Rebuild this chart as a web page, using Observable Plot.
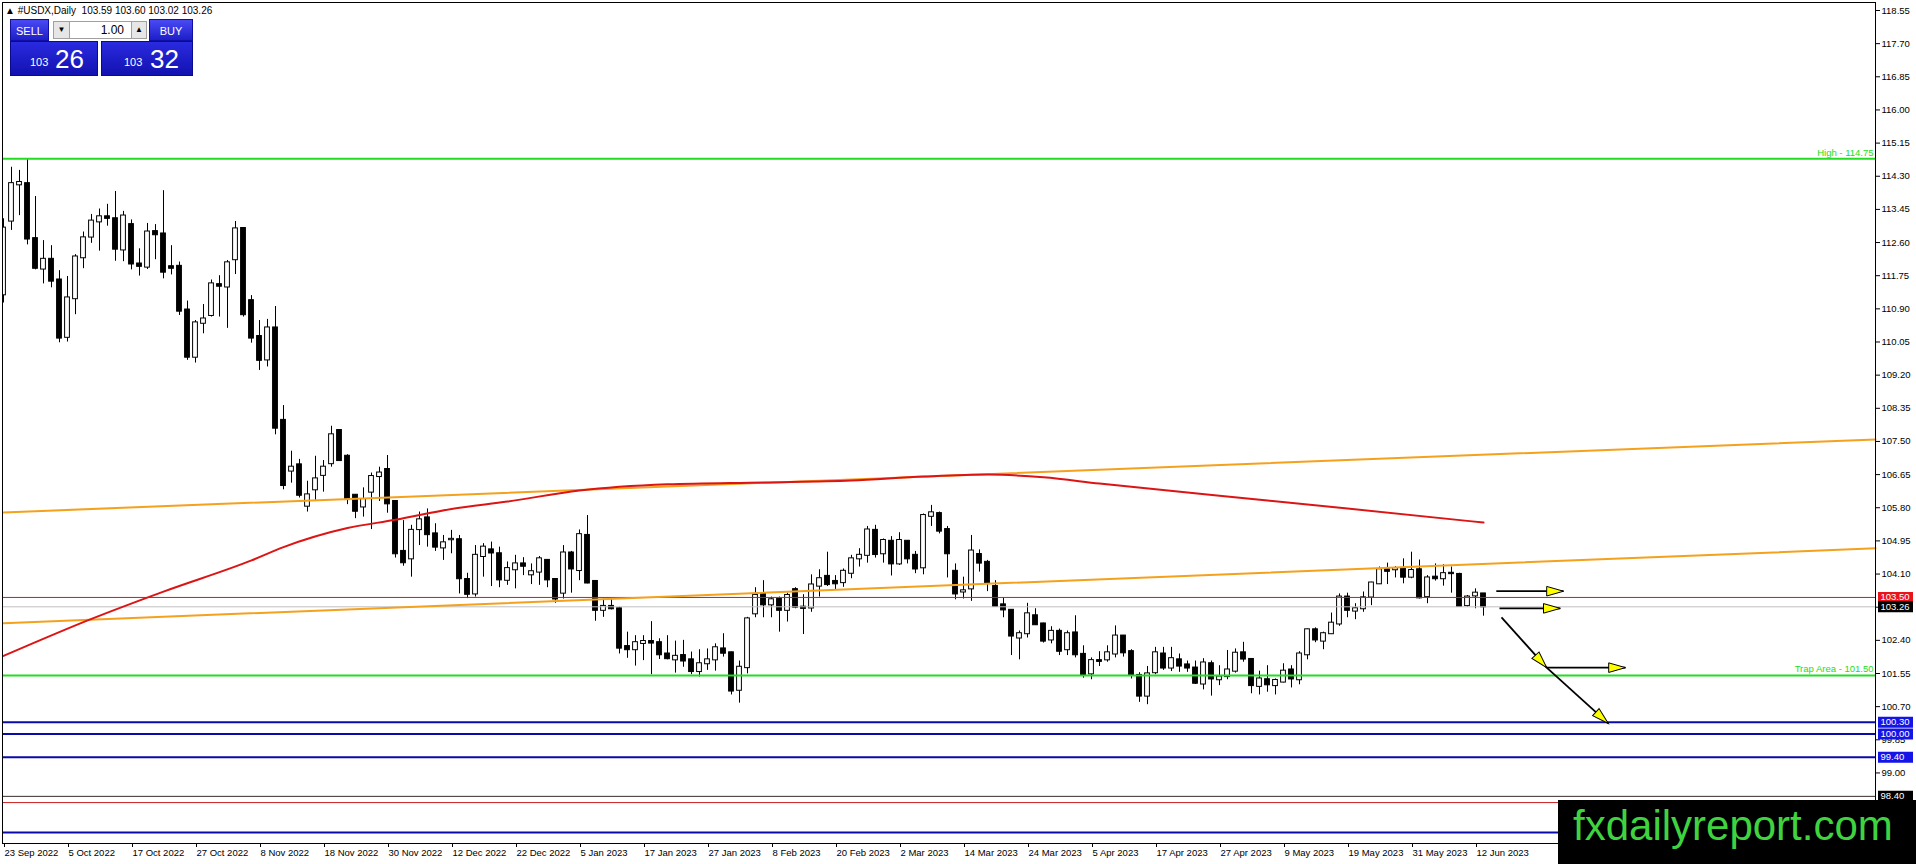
<!DOCTYPE html>
<html><head><meta charset="utf-8">
<script src="https://cdn.jsdelivr.net/npm/d3@7"></script>
<script src="https://cdn.jsdelivr.net/npm/@observablehq/plot@0.6"></script>
<style>
html,body{margin:0;padding:0;background:#fff;overflow:hidden}
#wrap{position:relative;width:1916px;height:864px;font-family:"Liberation Sans",Arial,sans-serif}
#chart{position:absolute;left:0;top:0}
.ov{position:absolute;box-sizing:border-box}
#hdr{left:5px;top:4px;font-size:10px;line-height:14px;color:#000;white-space:pre}
.btn{color:#fff;font-size:11px;text-align:center;line-height:22px;background:linear-gradient(#4a4af5,#1e1ec8);border:1px solid #1010a0}
.pbox{background:linear-gradient(#2a2ae0,#1212b0);border:1px solid #0a0a90;color:#fff}
.small{position:absolute;font-size:11px}
.big{position:absolute;font-size:26px}
.gbox{background:#e6e6e6;border:1px solid #a0a0a0;font-size:8px;text-align:center;line-height:16px;color:#000}
#lot{background:#fff;border-top:1px solid #a0a0a0;border-bottom:1px solid #a0a0a0;font-size:12px;line-height:16px;text-align:right;padding-right:7px;color:#000}
#wm{left:1558px;top:800px;width:358px;height:64px;background:#000}
#wmt{left:1573px;top:805px;font-size:42px;line-height:42px;color:#3fd43f;white-space:nowrap}
</style></head>
<body><div id="wrap"><div id="chart"></div></div>
<script>
// ---- data ----
const symbolName = "#USDX,Daily";
const tickBars = [0,8,16,24,32,40,48,56,64,72,80,88,96,104,112,120,128,136,144,152,160,168,176,184];
const tickLabels = ["23 Sep 2022","5 Oct 2022","17 Oct 2022","27 Oct 2022","8 Nov 2022","18 Nov 2022","30 Nov 2022","12 Dec 2022","22 Dec 2022","5 Jan 2023","17 Jan 2023","27 Jan 2023","8 Feb 2023","20 Feb 2023","2 Mar 2023","14 Mar 2023","24 Mar 2023","5 Apr 2023","17 Apr 2023","27 Apr 2023","9 May 2023","19 May 2023","31 May 2023","12 Jun 2023"];
const priceTicks = [118.55,117.70,116.85,116.00,115.15,114.30,113.45,112.60,111.75,110.90,110.05,109.20,108.35,107.50,106.65,105.80,104.95,104.10,103.25,102.40,101.55,100.70,99.85,99.00];

const openV = [111.26,113.15,114.08,114.11,112.70,111.92,112.17,111.64,110.17,111.16,112.21,112.74,113.13,113.26,113.21,112.41,113.06,112.05,111.97,112.88,112.82,111.98,111.99,110.87,109.66,110.53,110.73,111.52,111.46,112.16,112.96,111.11,110.19,109.59,110.41,108.04,106.74,106.90,105.84,106.26,106.63,106.93,107.78,107.12,106.12,105.82,106.20,106.60,106.78,105.96,104.68,104.49,105.24,105.54,105.13,104.77,104.98,104.98,103.96,103.59,104.55,104.72,104.62,103.94,104.21,104.36,104.08,104.15,104.45,103.96,103.61,104.64,104.19,105.09,103.91,103.17,103.27,103.21,102.24,102.16,102.32,102.37,102.34,102.05,101.90,102.01,101.90,101.60,101.80,101.90,102.18,102.08,101.12,101.70,103.08,103.59,103.31,103.45,103.17,103.70,103.25,103.23,103.79,104.04,103.91,103.88,104.12,104.49,104.58,105.22,104.62,104.94,104.36,104.94,104.58,104.26,105.58,105.65,105.24,104.17,103.64,103.72,104.60,104.40,103.78,103.31,103.17,102.46,102.57,103.03,102.82,102.41,102.63,102.16,102.59,102.04,101.54,101.88,101.90,102.05,102.51,102.11,101.50,100.97,101.57,102.05,101.69,101.90,101.77,101.69,101.28,101.80,101.39,101.47,101.61,102.08,101.91,101.22,101.39,101.24,101.33,101.64,101.39,102.03,102.67,102.38,102.57,102.82,103.51,103.15,103.21,103.51,103.85,104.21,104.21,104.23,104.02,104.21,103.52,104.02,103.98,104.12,104.09,103.29,103.54,103.59];
const highV = [113.21,114.53,114.45,114.75,113.78,112.65,112.52,111.88,111.73,112.29,112.87,113.32,113.46,113.58,113.91,113.40,113.18,112.44,113.09,113.06,113.93,112.52,112.10,111.10,110.60,111.01,111.64,111.75,112.14,113.14,112.98,111.24,110.60,110.63,110.96,108.42,107.25,107.04,106.48,107.12,107.01,107.89,107.80,107.16,106.14,106.31,106.69,106.84,107.14,105.98,105.47,105.35,105.69,105.77,105.39,105.09,105.22,105.09,104.12,104.83,104.88,104.92,104.79,104.41,104.58,104.52,104.36,104.55,104.47,103.98,104.83,104.68,105.23,105.60,103.93,103.46,103.46,103.25,102.61,102.52,102.52,102.88,102.44,102.52,102.38,102.40,102.10,102.16,102.18,102.31,102.57,102.10,101.87,102.99,103.75,103.93,103.51,103.51,103.61,103.75,103.57,104.08,104.21,104.66,104.06,104.23,104.58,104.75,105.32,105.35,105.00,105.06,105.16,104.96,104.68,105.64,105.86,105.69,105.32,104.36,104.02,105.09,104.72,104.45,103.93,103.49,103.18,102.64,103.35,103.21,102.84,102.75,102.69,102.64,103.03,102.26,101.95,102.11,102.26,102.77,102.52,102.16,101.57,101.73,102.22,102.22,102.22,102.05,101.87,101.87,101.93,101.87,101.75,102.14,102.18,102.35,101.93,101.61,101.75,101.41,101.80,101.75,102.11,102.69,102.72,102.61,103.10,103.59,103.61,103.34,103.64,103.89,104.28,104.38,104.29,104.49,104.66,104.46,104.06,104.36,104.34,104.28,104.12,103.55,103.72,103.60];
const lowV = [111.05,112.91,113.29,112.54,111.90,111.54,111.44,110.03,110.05,110.75,111.93,112.58,112.38,113.02,112.12,112.11,111.90,111.74,111.91,112.16,111.67,111.77,110.73,109.58,109.51,110.26,110.69,110.69,110.40,111.78,110.69,110.02,109.32,109.41,107.67,106.26,106.43,106.05,105.69,105.99,106.20,106.84,106.99,105.88,105.52,105.56,105.24,105.96,105.66,104.51,104.30,104.02,104.83,104.79,104.68,104.45,104.62,103.59,103.47,103.51,104.02,103.78,103.75,103.81,103.72,104.06,103.83,103.81,103.75,103.35,103.46,103.61,103.93,103.85,102.89,102.99,103.18,102.05,101.94,101.74,101.88,101.52,101.91,101.90,101.56,101.71,101.52,101.46,101.63,101.61,101.97,101.00,100.79,101.54,102.98,102.98,102.98,102.61,102.87,103.21,102.55,103.12,103.51,103.78,103.70,103.76,103.98,104.28,104.38,104.51,104.38,104.05,104.32,104.36,104.11,104.08,105.32,105.13,104.00,103.44,103.46,103.40,104.15,103.65,103.25,102.98,102.01,101.90,102.46,102.78,102.33,102.31,102.01,102.01,101.95,101.43,101.39,101.73,101.84,101.95,101.97,101.41,100.81,100.75,101.52,101.63,101.60,101.58,101.58,101.27,101.13,100.97,101.24,101.39,101.56,101.84,101.03,101.00,101.07,101.00,101.31,101.18,101.26,101.90,102.34,102.16,102.55,102.76,102.98,102.93,103.12,103.29,103.83,103.83,104.00,103.85,103.98,103.46,103.34,103.92,103.79,103.61,103.25,103.25,103.21,103.02];
const closeV = [112.97,114.11,114.14,112.69,111.94,112.17,111.61,110.15,111.18,112.23,112.72,113.15,113.26,113.22,112.43,113.28,112.05,111.99,112.87,112.80,111.84,111.94,110.84,109.66,110.54,110.64,111.54,111.48,112.08,112.95,110.75,110.15,109.58,110.41,107.84,106.37,106.84,106.12,106.13,106.54,106.84,107.67,107.01,106.01,105.71,106.01,106.60,106.69,105.90,104.62,104.39,105.22,105.49,105.11,104.79,104.90,104.99,103.98,103.58,104.58,104.79,104.64,103.95,104.24,104.36,104.30,104.16,104.49,103.95,103.46,104.64,104.23,105.11,103.87,103.17,103.27,103.21,102.20,102.16,102.34,102.37,102.33,102.03,101.93,101.99,101.87,101.60,101.80,101.90,102.21,102.07,101.10,101.71,102.95,103.55,103.31,103.44,103.17,103.55,103.25,103.22,103.82,103.98,103.83,103.85,104.17,104.49,104.58,105.23,104.60,104.96,104.36,104.96,104.49,104.23,105.60,105.67,105.20,104.62,103.59,103.67,104.69,104.38,103.87,103.27,103.18,102.51,102.57,103.08,102.80,102.38,102.63,102.12,102.57,102.03,101.50,101.88,101.86,102.08,102.51,102.08,101.52,100.97,101.54,102.08,101.69,101.93,101.74,101.69,101.30,101.82,101.41,101.46,101.64,102.07,101.92,101.24,101.41,101.26,101.37,101.61,101.41,102.05,102.67,102.41,102.57,102.84,103.51,103.17,103.21,103.49,103.87,104.21,104.17,104.24,104.02,104.19,103.49,104.00,103.98,104.11,104.11,103.27,103.51,103.61,103.26];

// moving average
const maBars = [0,11,20,31,35,43,49,56,63,72,83,95,106,115,123,130,137,152,168,185];
const maValues = [102.00,102.95,103.65,104.45,104.79,105.28,105.49,105.77,105.96,106.24,106.40,106.45,106.50,106.60,106.65,106.58,106.42,106.11,105.78,105.42];

// trendlines (orange)
const trendBars = [0,234];
const upperTrend = [105.68,107.55];
const lowerTrend = [102.84,104.76];

// horizontal levels
const greenLevels = [114.75,101.50];
const greenLevelText = ["High - 114.75","Trap Area - 101.50"];
const blueLevels = [100.30,100.00,99.40,97.47];
const redLevels = [103.50,98.24];
const bidLevel = [103.26];
const darkLevels = [98.40];
const redTags = [103.50];
const blackTags = [103.26,98.40];
const blueTags = [100.30,100.00,99.40];

// drawn arrows: start bar/price -> tip bar/price
const arrowX1 = [186.6,187.0,187.25,192.9,192.9];
const arrowY1 = [103.66,103.22,102.99,101.70,101.70];
const arrowX2 = [195.0,194.6,192.9,202.75,200.6];
const arrowY2 = [103.66,103.22,101.70,101.70,100.27];

// ---- build ----
const W = 1916, H = 864, mT = 2, mR = 41, mB = 21, mL = 2;
const xDomain = [-0.125, 234];
const yDomain = [97.191, 118.755];
const pxPerBar = (W - mL - mR) / (xDomain[1] - xDomain[0]);
const pxPerPrice = (H - mT - mB) / (yDomain[1] - yDomain[0]);

const candles = openV.map((o, i) => ({i, o, h: highV[i], l: lowV[i], c: closeV[i]}));
const ma = maBars.map((b, k) => ({x: b, y: maValues[k]}));
const up = trendBars.map((b, k) => ({x: b, y: upperTrend[k]}));
const lo = trendBars.map((b, k) => ({x: b, y: lowerTrend[k]}));
const arrows = arrowX1.map((x1, k) => ({x1, y1: arrowY1[k], x2: arrowX2[k], y2: arrowY2[k]}));
arrows.forEach(a => {
  a.angle = Math.atan2((a.y1 - a.y2) * pxPerPrice, (a.x2 - a.x1) * pxPerBar) * 180 / Math.PI;
});

const tagSymbol = {draw(ctx) { ctx.rect(-17.5, -5.5, 35, 11); }};
const headSymbol = {draw(ctx, size) {
  const r = Math.sqrt(size / Math.PI);
  ctx.moveTo(0, 0); ctx.lineTo(-2.8 * r, -0.8 * r); ctx.lineTo(-2.8 * r, 0.8 * r); ctx.closePath();
}};
const fmt = d => d.toFixed(2);

const plot = Plot.plot({
  width: W, height: H,
  marginTop: mT, marginRight: mR, marginBottom: mB, marginLeft: mL,
  x: {domain: xDomain, axis: null},
  y: {domain: yDomain, axis: null},
  color: {type: "identity"},
  style: {fontFamily: "'Liberation Sans', Arial, sans-serif", fontSize: "9.5px", background: "white", color: "black", overflow: "visible"},
  marks: [
    Plot.ruleX(candles, {x: "i", y1: "l", y2: "h", stroke: "#000", strokeWidth: 1, clip: true}),
    Plot.rect(candles, {x1: d => d.i - 0.3, x2: d => d.i + 0.3, y1: "o", y2: "c",
      fill: d => d.c >= d.o ? "#fff" : "#000", stroke: "#000", strokeWidth: 1,
      insetTop: -0.5, insetBottom: -0.5, clip: true}),
    Plot.ruleY(bidLevel, {stroke: "#c0c0c0", strokeWidth: 1}),
    Plot.ruleY(redLevels, {stroke: "#c81e1e", strokeWidth: 1}),
    Plot.ruleY(darkLevels, {stroke: "#3a2a2a", strokeWidth: 1}),
    Plot.ruleY(greenLevels, {stroke: "#22dd22", strokeWidth: 2}),
    Plot.ruleY(blueLevels, {stroke: "#0a0aa8", strokeWidth: 2}),
    Plot.line(up, {x: "x", y: "y", stroke: "#f4a11d", strokeWidth: 2}),
    Plot.line(lo, {x: "x", y: "y", stroke: "#f4a11d", strokeWidth: 2}),
    Plot.line(ma, {x: "x", y: "y", stroke: "#dc1414", strokeWidth: 2, curve: "monotone-x"}),
    Plot.link(arrows, {x1: "x1", y1: "y1", x2: "x2", y2: "y2", stroke: "#000", strokeWidth: 1.8}),
    Plot.dot(arrows, {x: "x2", y: "y2", r: 6, symbol: headSymbol, rotate: "angle", fill: "#ffff00", stroke: "#000", strokeWidth: 1}),
    Plot.text(greenLevels, {y: d => d, text: (d, i) => greenLevelText[i], frameAnchor: "right", dx: -2, dy: -6, textAnchor: "end", fill: "#22dd22"}),
    Plot.frame({stroke: "#000", strokeWidth: 1}),
    Plot.axisY({ticks: priceTicks, anchor: "right", tickSize: 4, tickPadding: 2, tickFormat: fmt, stroke: "#000", fill: "#000"}),
    Plot.axisX({ticks: tickBars, anchor: "bottom", tickSize: 4, tickPadding: 2, textAnchor: "start", dx: 1,
      tickFormat: d => tickLabels[tickBars.indexOf(d)], stroke: "#000", fill: "#000"}),
    Plot.dot(redTags, {y: d => d, frameAnchor: "right", dx: 20, symbol: tagSymbol, fill: "#e8141c", stroke: null}),
    Plot.dot(blackTags, {y: d => d, frameAnchor: "right", dx: 20, symbol: tagSymbol, fill: "#000", stroke: null}),
    Plot.dot(blueTags, {y: d => d, frameAnchor: "right", dx: 20, symbol: tagSymbol, fill: "#1414e6", stroke: null}),
    Plot.text([...redTags, ...blackTags, ...blueTags], {y: d => d, text: fmt, frameAnchor: "right", dx: 5, textAnchor: "start", fill: "#fff"})
  ]
});
const wrap = document.getElementById("wrap");
document.getElementById("chart").appendChild(plot);

// header & trade panel & watermark overlays
const last = candles[candles.length - 1];
const sell = last.c, buy = +(last.c + 0.06).toFixed(2);
const big = v => v.toFixed(2).split(".");
function add(cls, id, css, html) {
  const d = document.createElement("div");
  d.className = "ov " + cls; if (id) d.id = id;
  Object.assign(d.style, css); d.innerHTML = html || ""; wrap.appendChild(d); return d;
}
add("", "hdr", {}, "\u25B2 " + symbolName + "  " + [last.o, last.h, last.l, last.c].map(fmt).join(" "));
add("btn", null, {left: "10px", top: "19px", width: "39px", height: "22px"}, "SELL");
add("gbox", null, {left: "53px", top: "21px", width: "17px", height: "18px"}, "\u25BC");
add("", "lot", {left: "70px", top: "21px", width: "61px", height: "18px"}, "1.00");
add("gbox", null, {left: "131px", top: "21px", width: "16px", height: "18px"}, "\u25B2");
add("btn", null, {left: "149px", top: "19px", width: "44px", height: "22px"}, "BUY");
const sb = add("pbox", null, {left: "10px", top: "41px", width: "88px", height: "35px"});
sb.innerHTML = `<span class="small" style="left:19px;top:14px">${big(sell)[0]}</span><span class="big" style="left:44px;top:2px">${big(sell)[1]}</span>`;
const bb = add("pbox", null, {left: "101px", top: "41px", width: "92px", height: "35px"});
bb.innerHTML = `<span class="small" style="left:22px;top:14px">${big(buy)[0]}</span><span class="big" style="left:48px;top:2px">${big(buy)[1]}</span>`;
add("", "wm", {});
add("", "wmt", {}, "fxdailyreport.com");
</script>
</body></html>
